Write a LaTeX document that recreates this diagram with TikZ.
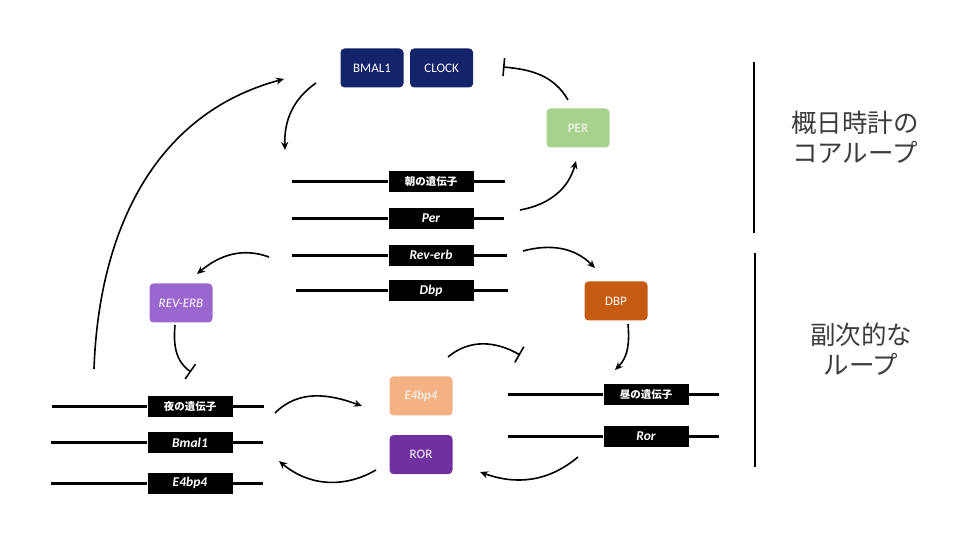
\documentclass[tikz,border=0pt]{standalone}
\usepackage{fontspec}
\setmainfont{Carlito}
\newfontfamily\jpfont{Noto Sans CJK JP}
\usetikzlibrary{arrows.meta, positioning, calc}

\definecolor{navy}{HTML}{14246A}
\definecolor{pergreen}{HTML}{A9D18E}
\definecolor{dbporange}{HTML}{C55A11}
\definecolor{revpurple}{HTML}{9A66CF}
\definecolor{peach}{HTML}{F4B183}
\definecolor{rorpurple}{HTML}{7030A0}
\definecolor{labelgray}{HTML}{3C3C3C}

\begin{document}
\begin{tikzpicture} [x = 1pt, y = 1pt, >= {Stealth[length = 8pt, width = 7pt]}, line width = 1.6pt,
  protein/.style = {rounded corners = 4pt, minimum width = 63pt, minimum height = 39pt, inner sep = 0pt, text = white, font = \fontsize{13}{13}\selectfont},
  gene/.style = {fill = black, minimum width = 85pt, minimum height = 21pt, inner sep = 0pt, text = white, font = \fontsize{13.5}{13.5}\selectfont\bfseries\itshape},
  genejp/.style = {gene, font = \fontsize{10.5}{10.5}\selectfont\jpfont\bfseries},
  dna/.style = {line width = 3pt},
  inhibit/.style = {-{Bar[width = 18pt, line width = 1.6pt]}},
  side/.style = {align = center, text = labelgray, font = \fontsize{25.5}{30}\selectfont\jpfont}]

\useasboundingbox (0, 0) rectangle (980, 545);

\node [protein, fill = navy] (bmal1) at (372, 477) {BMAL1};
\node [protein, fill = navy] (clock) [right = 5pt of bmal1] {CLOCK};
\node [protein, fill = pergreen] (per) at (578, 417) {PER};
\node [protein, fill = dbporange] (dbp) at (616, 244) {DBP};
\node [protein, fill = revpurple, font = \fontsize{13}{13}\selectfont\itshape] (reverb) at (181, 242) {REV-ERB};
\node [protein, fill = peach, font = \fontsize{13}{13}\selectfont\itshape] (e4bp4) at (421, 149) {E4bp4};
\node [protein, fill = rorpurple] (ror) [below = 18pt of e4bp4] {ROR};

\node [genejp] (morning) at (431, 363) {朝の遺伝子};
\node [gene] (per-gene) [below = 14pt of morning] {Per};
\node [gene] (reverb-gene) [below = 14pt of per-gene] {Rev-erb};
\node [gene] (dbp-gene) [below = 13pt of reverb-gene] {Dbp};

\node [genejp] (night) at (190, 138) {夜の遺伝子};
\node [gene] (bmal1-gene) [below = 13pt of night] {Bmal1};
\node [gene] (e4bp4-gene) [below = 18pt of bmal1-gene] {E4bp4};

\node [genejp] (day) at (646, 150) {昼の遺伝子};
\node [gene] (ror-gene) [below = 19pt of day] {Ror};

\draw [dna] (morning.west) -- ++(-96, 0) (morning.east) -- ++(31, 0);
\draw [dna] (per-gene.west) -- ++(-96, 0) (per-gene.east) -- ++(30, 0);
\draw [dna] (reverb-gene.west) -- ++(-96, 0) (reverb-gene.east) -- ++(33, 0);
\draw [dna] (dbp-gene.west) -- ++(-92, 0) (dbp-gene.east) -- ++(34, 0);
\draw [dna] (night.west) -- ++(-95, 0) (night.east) -- ++(31, 0);
\draw [dna] (bmal1-gene.west) -- ++(-96, 0) (bmal1-gene.east) -- ++(30, 0);
\draw [dna] (e4bp4-gene.west) -- ++(-96, 0) (e4bp4-gene.east) -- ++(30, 0);
\draw [dna] (day.west) -- ++(-95, 0) (day.east) -- ++(30, 0);
\draw [dna] (ror-gene.west) -- ++(-95, 0) (ror-gene.east) -- ++(30, 0);

\coordinate (s1) at (94, 176);   \coordinate (e1) at (284, 466);
\coordinate (s2) at (316, 462);  \coordinate (e2) at (285, 395);
\coordinate (s3) at (520, 335);  \coordinate (e3) at (576, 384);
\coordinate (s4) at (568, 445);  \coordinate (e4) at (503, 478);
\coordinate (s5) at (269, 288);  \coordinate (e5) at (197, 271);
\coordinate (s6) at (523, 294);  \coordinate (e6) at (595, 277);
\coordinate (s7) at (175, 220);  \coordinate (e7) at (191, 173);
\coordinate (s8) at (275, 132);  \coordinate (e8) at (362, 139);
\coordinate (s9) at (376, 75);   \coordinate (e9) at (279, 84);
\coordinate (s10) at (448, 188); \coordinate (e10) at (520, 190);
\coordinate (s11) at (628, 221); \coordinate (e11) at (615, 175);
\coordinate (s12) at (578, 88);  \coordinate (e12) at (480, 73);

\draw [->] (s1) to [out = 88, in = 195] (e1);
\draw [->] (s2) to [out = 215, in = 92] (e2);
\draw [->] (s3) to [out = 10, in = -105] (e3);
\draw [inhibit] (s4) to [out = 120, in = -5] (e4);
\draw [->] (s5) to [out = 160, in = 40] (e5);
\draw [->] (s6) to [out = 15, in = 135] (e6);
\draw [inhibit] (s7) to [out = -95, in = 145] (e7);
\draw [->] (s8) to [out = 45, in = 160] (e8);
\draw [->] (s9) to [out = 210, in = -40] (e9);
\draw [inhibit] (s10) to [out = 40, in = 150] (e10);
\draw [->] (s11) to [out = -85, in = 45] (e11);
\draw [->] (s12) to [out = 220, in = -20] (e12);

\draw [line width = 2.6pt] (754, 483) -- (754, 312);
\draw [line width = 2.6pt] (755, 292) -- (755, 78);

\node [side] (core) at (855, 408) {概日時計の\\コアループ};
\node [side] (sub) at (861, 196) {副次的な\\ループ};

\end{tikzpicture}
\end{document}
